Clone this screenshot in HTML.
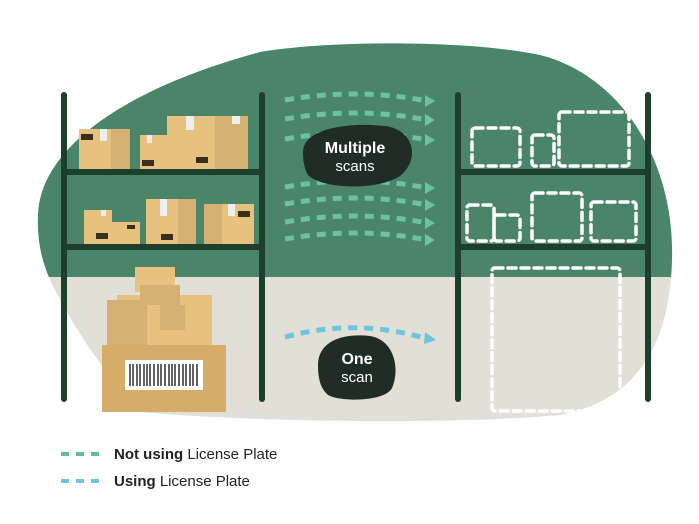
<!DOCTYPE html>
<html><head><style>
html,body{margin:0;padding:0;background:#fff;}
svg{display:block;}
text{font-family:"Liberation Sans",sans-serif;}
</style></head><body>
<svg width="699" height="524" viewBox="0 0 699 524" xmlns="http://www.w3.org/2000/svg">
<defs>
<clipPath id="blob"><path d="M38,215 C40,150 120,90 260,52 C330,40 470,40 540,55 C620,75 675,160 672,260 C670,340 640,400 560,415 C450,425 250,422 140,412 C105,375 65,315 48,275 C40,255 37,235 38,215Z"/></clipPath>
</defs>
<g clip-path="url(#blob)">
<rect x="0" y="0" width="699" height="277" fill="#4a8469"/>
<rect x="0" y="277" width="699" height="250" fill="#e2dfd6"/>
</g>
<g fill="#1f3f2d">
<rect x="61" y="92" width="6" height="310" rx="3"/>
<rect x="259" y="92" width="6" height="310" rx="3"/>
<rect x="64" y="169" width="198" height="6"/>
<rect x="64" y="244" width="198" height="6"/>
<rect x="455" y="92" width="6" height="310" rx="3"/>
<rect x="645" y="92" width="6" height="310" rx="3"/>
<rect x="458" y="169" width="190" height="6"/>
<rect x="458" y="244" width="190" height="6"/>
</g>
<g>
<rect x="79" y="129" width="51" height="40" fill="#e6c27e"/><rect x="111" y="129" width="19" height="40" fill="#d4b072"/><rect x="100" y="129" width="7" height="12" fill="#eee"/>
<rect x="140" y="135" width="27" height="34" fill="#e6c27e"/><rect x="147" y="135" width="5" height="8" fill="#eee"/>
<rect x="167" y="116" width="81" height="53" fill="#e6c27e"/><rect x="215" y="116" width="33" height="53" fill="#d4b072"/><rect x="186" y="116" width="8" height="14" fill="#eee"/><rect x="232" y="116" width="8" height="8" fill="#eee"/>
<rect x="84" y="210" width="28" height="34" fill="#e6c27e"/><rect x="112" y="222" width="28" height="22" fill="#e6c27e"/><rect x="101" y="210" width="5" height="6" fill="#eee"/>
<rect x="146" y="199" width="50" height="45" fill="#e6c27e"/><rect x="178" y="199" width="18" height="45" fill="#d4b072"/><rect x="160" y="199" width="7" height="17" fill="#eee"/>
<rect x="204" y="204" width="50" height="40" fill="#d4b072"/><rect x="222" y="204" width="32" height="40" fill="#e6c27e"/><rect x="228" y="204" width="7" height="12" fill="#eee"/>
<g fill="#3a2e1e">
<rect x="81" y="134" width="12" height="6"/><rect x="142" y="160" width="12" height="6"/><rect x="196" y="157" width="12" height="6"/>
<rect x="96" y="233" width="12" height="6"/><rect x="161" y="234" width="12" height="6"/><rect x="238" y="211" width="12" height="6"/><rect x="127" y="225" width="8" height="4"/>
</g>
</g>
<g>
<rect x="135" y="267" width="40" height="25" fill="#e6c27e"/>
<rect x="117" y="295" width="95" height="50" fill="#e6c27e"/>
<rect x="107" y="300" width="40" height="45" fill="#d4b072"/>
<rect x="160" y="305" width="25" height="25" fill="#d4b072"/>
<rect x="140" y="285" width="40" height="20" fill="#d4b072"/>
<rect x="102" y="345" width="124" height="55" fill="#d6ad68"/>
<rect x="102" y="400" width="124" height="12" fill="#d6ad68"/>
<rect x="125" y="360" width="78" height="30" fill="#fff"/>
<g stroke="#222" stroke-width="1.4">
<path d="M130,364v22M133,364v22M137,364v22M140,364v22M144,364v22M147,364v22M150,364v22M154,364v22M158,364v22M161,364v22M165,364v22M169,364v22M172,364v22M175,364v22M179,364v22M183,364v22M186,364v22M190,364v22M193,364v22M197,364v22"/>
</g>
</g>
<g fill="none" stroke="#fff" stroke-width="3.5" stroke-dasharray="8,5" stroke-linecap="round">
<rect x="472" y="128" width="48" height="38" rx="3"/>
<rect x="532" y="135" width="22" height="31" rx="3"/>
<rect x="559" y="112" width="70" height="54" rx="3"/>
<rect x="467" y="205" width="27" height="36" rx="3"/>
<rect x="494" y="215" width="26" height="26" rx="3"/>
<rect x="532" y="193" width="50" height="48" rx="3"/>
<rect x="591" y="202" width="45" height="39" rx="3"/>
<rect x="492" y="268" width="128" height="143" rx="3"/>
</g>
<g fill="none" stroke="#69c3a0" stroke-width="5" stroke-dasharray="9,7">
<path d="M285,100 Q355,88 422,100"/>
<path d="M285,119 Q355,107 422,119"/>
<path d="M285,139 Q355,127 422,139"/>
<path d="M285,187 Q355,175 422,187"/>
<path d="M285,204 Q355,192 422,204"/>
<path d="M285,222 Q355,210 422,222"/>
<path d="M285,239 Q355,227 422,239"/>
</g>
<g fill="#69c3a0">
<path d="M425,95 l10,6 l-10,6z"/><path d="M425,114 l10,6 l-10,6z"/><path d="M425,134 l10,6 l-10,6z"/>
<path d="M425,182 l10,6 l-10,6z"/><path d="M425,199 l10,6 l-10,6z"/><path d="M425,217 l10,6 l-10,6z"/><path d="M425,234 l10,6 l-10,6z"/>
</g>
<path d="M285,337 Q355,318 424,338" fill="none" stroke="#6cc5dc" stroke-width="5" stroke-dasharray="9,7"/>
<path d="M425,332 l11,8 l-12,4z" fill="#6cc5dc"/>
<path d="M303,152 C303,128 350,122 385,126 C415,130 420,160 400,176 C375,192 320,188 308,175 C304,168 303,160 303,152Z" fill="#1f2d26"/>
<text x="355" y="153" text-anchor="middle" fill="#fff" font-size="16" font-weight="bold">Multiple</text>
<text x="355" y="171" text-anchor="middle" fill="#fff" font-size="15">scans</text>
<path d="M318,365 C318,340 345,333 370,336 C395,340 400,370 392,388 C385,402 340,402 328,395 C320,388 318,378 318,365Z" fill="#1f2d26"/>
<text x="357" y="364" text-anchor="middle" fill="#fff" font-size="16" font-weight="bold">One</text>
<text x="357" y="382" text-anchor="middle" fill="#fff" font-size="15">scan</text>
<g fill="#5fbf98"><rect x="61" y="452" width="8" height="4"/><rect x="76" y="452" width="8" height="4"/><rect x="91" y="452" width="8" height="4"/></g>
<g fill="#6cc5dc"><rect x="61" y="479" width="8" height="4"/><rect x="76" y="479" width="8" height="4"/><rect x="91" y="479" width="8" height="4"/></g>
<text x="114" y="459" font-size="15" fill="#222"><tspan font-weight="bold">Not using</tspan> License Plate</text>
<text x="114" y="486" font-size="15" fill="#222"><tspan font-weight="bold">Using</tspan> License Plate</text>
</svg>
</body></html>
